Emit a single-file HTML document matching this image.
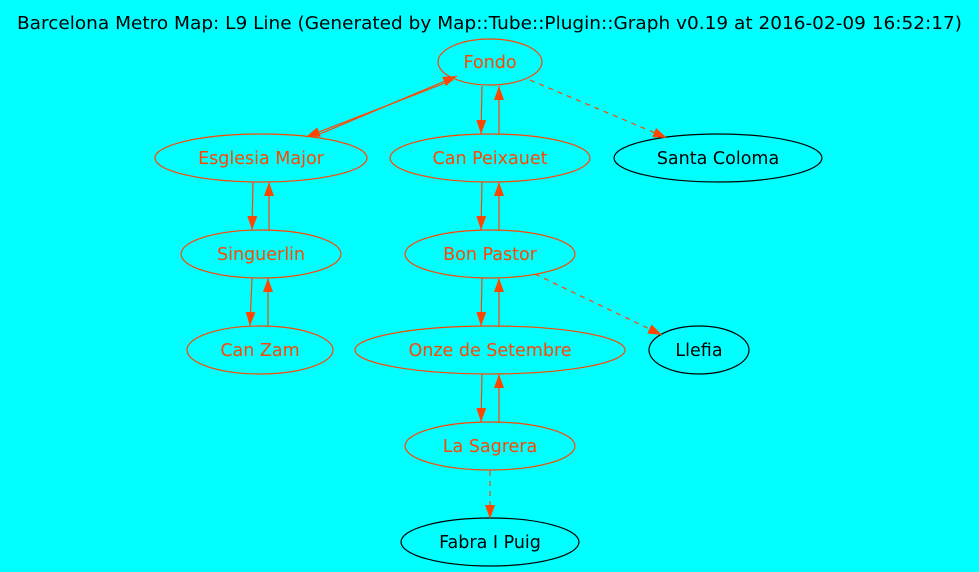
<!DOCTYPE html>
<html><head><meta charset="utf-8"><style>
html,body{margin:0;padding:0;background:#00ffff;}
svg{display:block;}
text{font-family:"DejaVu Sans","Liberation Sans",sans-serif;font-size:17.5px;}
</style></head><body>
<svg width="979" height="572" viewBox="0 0 979 572" xmlns="http://www.w3.org/2000/svg">
<defs>
<marker id="a" markerWidth="14" markerHeight="10" refX="14" refY="5" orient="auto" markerUnits="userSpaceOnUse">
<path d="M0,0 L14,5 L0,10 Z" fill="#ff4500"/></marker>
</defs>
<rect width="979" height="572" fill="#00ffff"/>
<text x="17" y="29" textLength="945" lengthAdjust="spacingAndGlyphs" fill="#000">Barcelona Metro Map: L9 Line (Generated by Map::Tube::Plugin::Graph v0.19 at 2016-02-09 16:52:17)</text>
<g fill="none" stroke="#ff4500" stroke-width="1.2">
<ellipse cx="490" cy="62" rx="52" ry="23"/>
<ellipse cx="261" cy="158" rx="106" ry="24"/>
<ellipse cx="490" cy="158" rx="100" ry="24"/>
<ellipse cx="261" cy="254" rx="80" ry="24"/>
<ellipse cx="490" cy="254" rx="85" ry="24"/>
<ellipse cx="260" cy="350" rx="73" ry="24"/>
<ellipse cx="490" cy="350" rx="135" ry="24"/>
<ellipse cx="490" cy="446" rx="85" ry="24"/>
</g>
<g fill="none" stroke="#000" stroke-width="1.2">
<ellipse cx="718" cy="158" rx="104" ry="24"/>
<ellipse cx="699" cy="350" rx="50" ry="24"/>
<ellipse cx="490" cy="542" rx="89" ry="24"/>
</g>
<g stroke="#ff4500" stroke-width="1.2" fill="none" marker-end="url(#a)">
<line x1="453" y1="80" x2="306" y2="137"/>
<line x1="320" y1="134" x2="457" y2="76"/>
<line x1="482" y1="86" x2="481" y2="134"/>
<line x1="499" y1="134" x2="499" y2="86"/>
<line x1="482" y1="182" x2="481" y2="230"/>
<line x1="499" y1="230" x2="499" y2="182"/>
<line x1="482" y1="278" x2="481" y2="326"/>
<line x1="499" y1="326" x2="499" y2="278"/>
<line x1="482" y1="374" x2="481" y2="422"/>
<line x1="499" y1="422" x2="499" y2="374"/>
<line x1="253" y1="182" x2="252" y2="230"/>
<line x1="269" y1="230" x2="269" y2="182"/>
<line x1="252" y1="278" x2="250" y2="326"/>
<line x1="268" y1="326" x2="268" y2="278"/>
<line x1="530" y1="80" x2="667" y2="138" stroke-dasharray="5,5"/>
<line x1="535" y1="274" x2="662" y2="335" stroke-dasharray="5,5"/>
<line x1="490" y1="471" x2="490" y2="519" stroke-dasharray="5,5"/>
</g>
<g fill="#ff4500" text-anchor="middle">
<text x="490" y="68">Fondo</text>
<text x="261" y="164">Esglesia Major</text>
<text x="490" y="164">Can Peixauet</text>
<text x="261" y="260">Singuerlin</text>
<text x="490" y="260">Bon Pastor</text>
<text x="260" y="356">Can Zam</text>
<text x="490" y="356">Onze de Setembre</text>
<text x="490" y="452">La Sagrera</text>
</g>
<g fill="#000" text-anchor="middle">
<text x="718" y="164">Santa Coloma</text>
<text x="699" y="356">Llefia</text>
<text x="490" y="548">Fabra I Puig</text>
</g>
</svg>
</body></html>
